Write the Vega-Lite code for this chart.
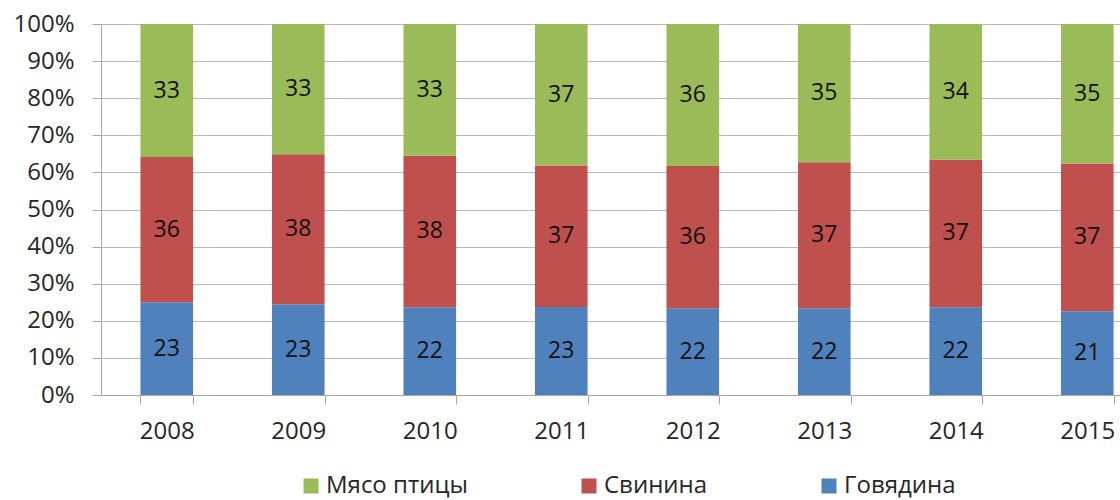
{
  "$schema": "https://vega.github.io/schema/vega-lite/v6.json",
  "width": 1019,
  "height": 371,
  "autosize": {"type": "none"},
  "padding": {"left": 101, "top": 24, "right": 0, "bottom": 105},
  "config": {
    "font": "Open Sans",
    "view": {"stroke": null},
    "axis": {"labelFont": "Open Sans", "labelColor": "#262626", "labelFontSize": 24, "domainColor": "#A6A6A6", "tickColor": "#A6A6A6", "tickSize": 9, "title": null, "labelOverlap": false}
  },
  "data": {
    "values": [
      {"year": "2008", "meat": "Говядина", "rank": 1, "value": 23},
      {"year": "2008", "meat": "Свинина", "rank": 2, "value": 36},
      {"year": "2008", "meat": "Мясо птицы", "rank": 3, "value": 33},
      {"year": "2009", "meat": "Говядина", "rank": 1, "value": 23},
      {"year": "2009", "meat": "Свинина", "rank": 2, "value": 38},
      {"year": "2009", "meat": "Мясо птицы", "rank": 3, "value": 33},
      {"year": "2010", "meat": "Говядина", "rank": 1, "value": 22},
      {"year": "2010", "meat": "Свинина", "rank": 2, "value": 38},
      {"year": "2010", "meat": "Мясо птицы", "rank": 3, "value": 33},
      {"year": "2011", "meat": "Говядина", "rank": 1, "value": 23},
      {"year": "2011", "meat": "Свинина", "rank": 2, "value": 37},
      {"year": "2011", "meat": "Мясо птицы", "rank": 3, "value": 37},
      {"year": "2012", "meat": "Говядина", "rank": 1, "value": 22},
      {"year": "2012", "meat": "Свинина", "rank": 2, "value": 36},
      {"year": "2012", "meat": "Мясо птицы", "rank": 3, "value": 36},
      {"year": "2013", "meat": "Говядина", "rank": 1, "value": 22},
      {"year": "2013", "meat": "Свинина", "rank": 2, "value": 37},
      {"year": "2013", "meat": "Мясо птицы", "rank": 3, "value": 35},
      {"year": "2014", "meat": "Говядина", "rank": 1, "value": 22},
      {"year": "2014", "meat": "Свинина", "rank": 2, "value": 37},
      {"year": "2014", "meat": "Мясо птицы", "rank": 3, "value": 34},
      {"year": "2015", "meat": "Говядина", "rank": 1, "value": 21},
      {"year": "2015", "meat": "Свинина", "rank": 2, "value": 37},
      {"year": "2015", "meat": "Мясо птицы", "rank": 3, "value": 35}
    ]
  },
  "encoding": {
    "x": {
      "field": "year",
      "type": "nominal",
      "scale": {"paddingInner": 0.6, "paddingOuter": 0.1745, "align": 0.86},
      "axis": {"labelAngle": 0, "tickBand": "extent", "labelPadding": 15, "grid": false}
    },
    "order": {"field": "rank", "type": "quantitative"}
  },
  "layer": [
    {
      "mark": {"type": "bar"},
      "encoding": {
        "y": {
          "field": "value",
          "type": "quantitative",
          "stack": "normalize",
          "scale": {"domain": [0, 1]},
          "axis": {
            "format": ".0%",
            "values": [0, 0.1, 0.2, 0.3, 0.4, 0.5, 0.6, 0.7, 0.8, 0.9, 1],
            "labelOverlap": false,
            "grid": true,
            "gridColor": "#B8B8B8",
            "labelPadding": 18
          }
        },
        "color": {
          "field": "meat",
          "type": "nominal",
          "scale": {"domain": ["Мясо птицы", "Свинина", "Говядина"], "range": ["#9BBB59", "#C0504D", "#4F81BD"]},
          "legend": {
            "orient": "none",
            "legendX": 198,
            "legendY": 450,
            "direction": "horizontal",
            "title": null,
            "symbolType": "square",
            "symbolSize": 225,
            "symbolStrokeWidth": 0,
            "labelFont": "Open Sans",
            "labelFontSize": 24,
            "labelColor": "#262626",
            "labelOffset": 3,
            "columnPadding": 109
          }
        }
      }
    },
    {
      "mark": {"type": "text", "fontSize": 23, "font": "Open Sans", "color": "#111111"},
      "encoding": {
        "y": {
          "field": "value",
          "type": "quantitative",
          "stack": "normalize",
          "bandPosition": 0.5,
          "scale": {"domain": [0, 1]},
          "axis": {
            "format": ".0%",
            "values": [0, 0.1, 0.2, 0.3, 0.4, 0.5, 0.6, 0.7, 0.8, 0.9, 1],
            "labelOverlap": false,
            "grid": true,
            "gridColor": "#B8B8B8",
            "labelPadding": 18
          }
        },
        "detail": {"field": "meat"},
        "text": {"field": "value", "type": "quantitative"}
      }
    }
  ]
}
